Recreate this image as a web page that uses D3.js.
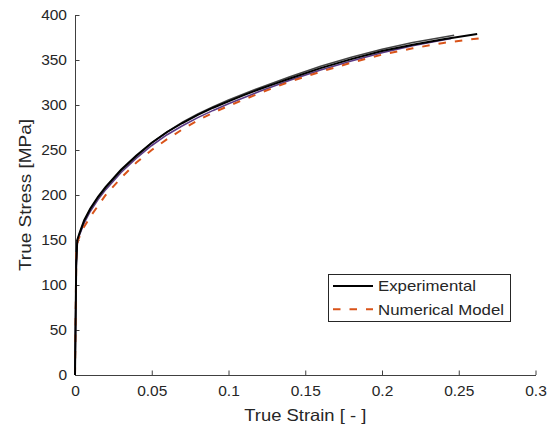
<!DOCTYPE html>
<html><head><meta charset="utf-8">
<script src="https://cdn.jsdelivr.net/npm/d3@7"></script>
<style>body{margin:0;background:#fff}svg{display:block}text{font-family:"Liberation Sans",Arial,sans-serif;fill:#262626}</style>
</head><body>
<svg id="c" width="555" height="430"></svg>
<script>
// data
const xTicks = [0, 0.05, 0.1, 0.15, 0.2, 0.25, 0.3];
const xTickLabels = ["0", "0.05", "0.1", "0.15", "0.2", "0.25", "0.3"];
const yTicks = [0, 50, 100, 150, 200, 250, 300, 350, 400];
const legendLabels = ["Experimental", "Numerical Model"];

const exp1Strain = [0, 0.0008, 0.0015, 0.003, 0.006, 0.01, 0.015, 0.02, 0.03, 0.04, 0.05, 0.06, 0.07, 0.08, 0.09, 0.1, 0.11, 0.12, 0.13, 0.14, 0.16, 0.18, 0.2, 0.22, 0.24, 0.262];
const exp1Stress = [0, 125, 150, 158, 172, 185, 198, 209, 228, 244, 258, 270, 280, 289, 297, 304, 311, 317.5, 323.5, 329.5, 341, 351, 360, 367, 373, 379];
const exp2Strain = [0, 0.0008, 0.0015, 0.003, 0.006, 0.01, 0.015, 0.02, 0.03, 0.04, 0.05, 0.06, 0.07, 0.08, 0.09, 0.1, 0.12, 0.14, 0.16, 0.18, 0.2, 0.22, 0.247];
const exp2Stress = [0, 122, 149, 157, 171, 184, 197, 208, 227, 243, 258, 270, 281, 290, 298, 305.5, 319, 331.5, 343, 353, 362, 369.5, 377.5];
const exp3Strain = [0, 0.0008, 0.0015, 0.003, 0.006, 0.01, 0.015, 0.02, 0.03, 0.04, 0.05, 0.06, 0.07, 0.08, 0.09, 0.1, 0.12, 0.14, 0.16, 0.18, 0.2, 0.22, 0.245];
const exp3Stress = [0, 120, 147, 156, 169, 182, 195, 206, 225, 241, 255, 267, 277, 286, 294, 301.5, 315, 327.5, 339, 349, 358, 366, 374];
const numStrain = [0, 0.0009, 0.002, 0.005, 0.01, 0.015, 0.02, 0.03, 0.04, 0.05, 0.06, 0.07, 0.08, 0.09, 0.1, 0.12, 0.14, 0.16, 0.18, 0.2, 0.22, 0.24, 0.263];
const numStress = [0, 140, 150, 162, 176, 188, 200, 219, 236, 250, 262, 273, 283, 291.5, 299, 313, 326, 337, 347, 356, 363, 369, 374];

const svg = d3.select("#c");
const x = d3.scaleLinear().domain([0, 0.3]).range([75, 535.5]);
const y = d3.scaleLinear().domain([0, 400]).range([375, 15]);
const axisColor = "#404040";

// axes
const gx = svg.append("g").attr("transform", `translate(0,${y(0)})`)
  .call(d3.axisBottom(x).tickValues(xTicks).tickFormat((d, i) => xTickLabels[i]).tickSizeInner(-4.5).tickSizeOuter(0).tickPadding(9));
const gy = svg.append("g").attr("transform", `translate(${x(0)},0)`)
  .call(d3.axisLeft(y).tickValues(yTicks).tickSizeInner(-4.5).tickSizeOuter(0).tickPadding(8));
[gx, gy].forEach(g => {
  g.select(".domain").attr("stroke", axisColor).attr("stroke-width", 1);
  g.selectAll(".tick line").attr("stroke", axisColor);
  g.selectAll(".tick text").attr("font-size", 15.5).attr("fill", "#333").attr("font-family", "Liberation Sans, Arial, sans-serif");
});
gx.selectAll(".tick text").attr("y", 10);
gy.selectAll(".tick text").attr("x", -8);

const line = (xs, ys) => d3.line().x((d, i) => x(xs[i])).y((d, i) => y(ys[i]))(xs);

svg.append("path").attr("d", line(exp3Strain, exp3Stress)).attr("fill", "none").attr("stroke", "#5a3a86").attr("stroke-width", 1.6);
svg.append("path").attr("d", line(exp2Strain, exp2Stress)).attr("fill", "none").attr("stroke", "#444").attr("stroke-width", 1.6);
svg.append("path").attr("d", line(numStrain, numStress)).attr("fill", "none").attr("stroke", "#D95319").attr("stroke-width", 2).attr("stroke-dasharray", "7.5,9");
svg.append("path").attr("d", line(exp1Strain, exp1Stress)).attr("fill", "none").attr("stroke", "#000").attr("stroke-width", 2);

// axis labels
svg.append("text").attr("x", (x(0) + x(0.3)) / 2).attr("y", 421).attr("text-anchor", "middle").attr("font-size", 16.5)
  .attr("textLength", 122).attr("lengthAdjust", "spacingAndGlyphs").attr("fill", "#333").text("True Strain [ - ]");
svg.append("text").attr("transform", `translate(31,${(y(0) + y(400)) / 2}) rotate(-90)`).attr("text-anchor", "middle").attr("font-size", 16.5)
  .attr("textLength", 152).attr("lengthAdjust", "spacingAndGlyphs").attr("fill", "#333").text("True Stress [MPa]");

// legend
const lg = svg.append("g");
lg.append("rect").attr("x", 328.5).attr("y", 274.5).attr("width", 182).attr("height", 47).attr("fill", "#fff").attr("stroke", "#262626").attr("stroke-width", 1);
const lgStyles = [{c: "#000", w: 2, d: null}, {c: "#D95319", w: 2, d: "7.5,9"}];
const lgLens = [98, 126];
legendLabels.forEach((t, i) => {
  const cy = 286 + i * 23.3;
  lg.append("line").attr("x1", 333).attr("x2", 373).attr("y1", cy).attr("y2", cy).attr("stroke", lgStyles[i].c).attr("stroke-width", lgStyles[i].w).attr("stroke-dasharray", lgStyles[i].d);
  lg.append("text").attr("x", 378).attr("y", cy).attr("dy", "0.36em").attr("font-size", 14.5)
    .attr("textLength", lgLens[i]).attr("lengthAdjust", "spacingAndGlyphs").attr("fill", "#000").text(t);
});
</script>
</body></html>
